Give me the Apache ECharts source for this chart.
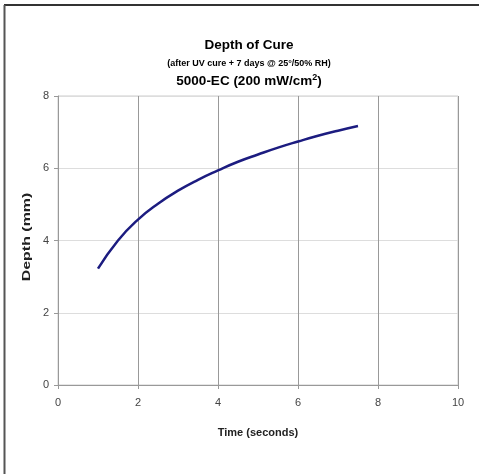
<!DOCTYPE html>
<html><head><meta charset="utf-8">
<script src="https://cdn.jsdelivr.net/npm/echarts@6/dist/echarts.min.js"></script>
<style>html,body{margin:0;padding:0;background:#fff}#c{width:479px;height:474px}</style>
</head><body><div id="c"></div>
<script>
var timeSec = [1, 1.5, 2, 2.5, 3, 3.5, 4, 4.5, 5, 5.5, 6, 6.5, 7, 7.5];
var depthMm = [3.22, 4.0, 4.58, 5.02, 5.38, 5.68, 5.94, 6.18, 6.38, 6.57, 6.74, 6.9, 7.04, 7.17];
var xTicks = [0, 2, 4, 6, 8, 10];
var yTicks = [0, 2, 4, 6, 8];

var pts = timeSec.map(function (t, i) { return [t, depthMm[i]]; });
var chart = echarts.init(document.getElementById('c'));
var F = 'Liberation Sans, Arial, sans-serif';
chart.setOption({
  backgroundColor: '#fff',
  animation: false,
  graphic: [
    { type: 'line', shape: { x1: 4, y1: 5, x2: 479, y2: 5 }, style: { stroke: '#333', lineWidth: 2 } },
    { type: 'line', shape: { x1: 4.5, y1: 5, x2: 4.5, y2: 474 }, style: { stroke: '#555', lineWidth: 2 } },
    { type: 'text', x: 249, y: 38, style: { text: 'Depth of Cure', font: 'bold 13.5px ' + F, fill: '#000', textAlign: 'center' } },
    { type: 'text', x: 249, y: 59, style: { text: '(after UV cure + 7 days @ 25°/50% RH)', font: 'bold 9px ' + F, fill: '#000', textAlign: 'center' } },
    { type: 'text', x: 249, y: 73, style: {
        text: '{a|5000-EC (200 mW/cm}{s|2}{a|)}', textAlign: 'center',
        rich: { a: { font: 'bold 13.5px ' + F, fill: '#000' }, s: { font: 'bold 9px ' + F, fill: '#000', verticalAlign: 'top', padding: [0, 0, 7, 0] } } } },
    { type: 'text', x: 27, y: 237, rotation: Math.PI / 2, scaleX: 1.45,
      style: { text: 'Depth (mm)', font: 'bold 11px ' + F, fill: '#222', textAlign: 'center', textVerticalAlign: 'middle' } }
  ],
  grid: { left: 58, right: 21, top: 96, bottom: 89, show: true, borderColor: '#ccc', borderWidth: 1 },
  xAxis: {
    type: 'value', min: 0, max: 10, interval: 2,
    name: 'Time (seconds)', nameLocation: 'middle', nameGap: 42,
    nameTextStyle: { fontFamily: F, fontWeight: 'bold', fontSize: 11, color: '#222' },
    axisLine: { show: true, lineStyle: { color: '#999' } },
    axisTick: { show: true, length: 4, lineStyle: { color: '#999' } },
    axisLabel: { fontFamily: F, fontSize: 11, color: '#444', margin: 12,
      formatter: function (v) { return xTicks.indexOf(v) >= 0 ? String(v) : ''; } },
    splitLine: { show: true, lineStyle: { color: '#999' } }
  },
  yAxis: {
    type: 'value', min: 0, max: 8, interval: 2,
    axisLine: { show: true, lineStyle: { color: '#999' } },
    axisTick: { show: true, length: 4, lineStyle: { color: '#999' } },
    axisLabel: { fontFamily: F, fontSize: 11, color: '#444', margin: 9,
      formatter: function (v) { return yTicks.indexOf(v) >= 0 ? String(v) : ''; } },
    splitLine: { show: true, lineStyle: { color: '#ddd' } }
  },
  series: [{
    type: 'line', data: pts, smooth: true, showSymbol: false,
    lineStyle: { color: '#1c1c80', width: 2.5 }
  }]
});
</script></body></html>
